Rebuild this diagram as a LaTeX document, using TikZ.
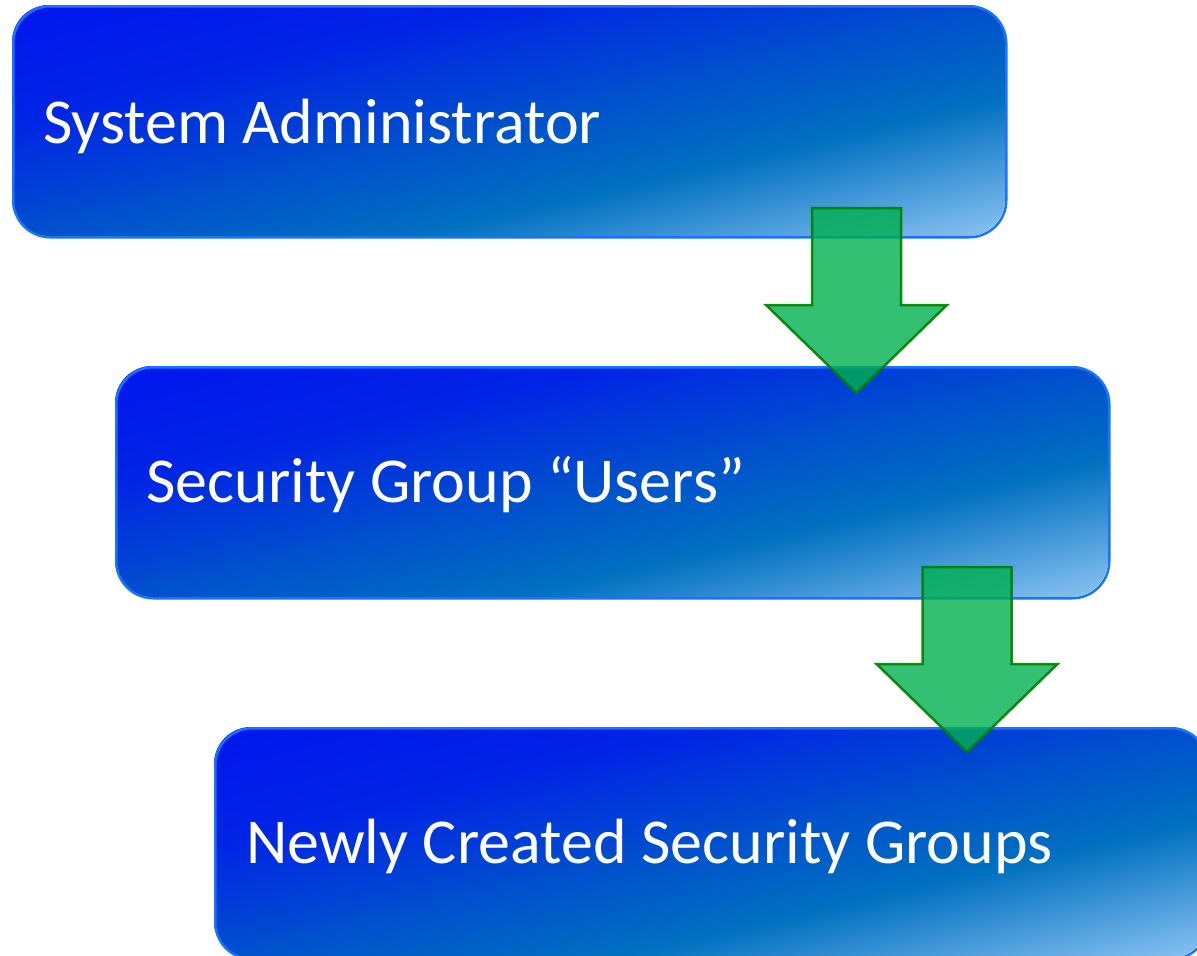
\documentclass[tikz,border=0pt]{standalone}
\usepackage{fontspec}
\setmainfont{Carlito}
\usetikzlibrary{calc}
\definecolor{gA}{RGB}{0,16,240}
\definecolor{gB}{RGB}{0,36,230}
\definecolor{gC}{RGB}{0,80,205}
\definecolor{gD}{RGB}{0,112,192}
\definecolor{gE}{RGB}{160,208,250}
\definecolor{boxline}{RGB}{25,115,255}
\definecolor{arrfill}{RGB}{0,176,80}
\definecolor{arrline}{RGB}{0,128,0}
\tikzset{
  boxframe/.style={draw=boxline, line width=2.5bp, rounded corners=37bp,
    minimum width=993bp, minimum height=231bp, inner sep=0pt, anchor=north west},
  boxtext/.style={anchor=base west, text=white, inner sep=0pt,
    font=\fontsize{64bp}{76bp}\selectfont},
  blockarrow/.style={draw=arrline, draw opacity=0.9, fill=arrfill, fill opacity=0.8,
    line width=2.5bp, line join=miter}
}
\newcommand{\gradfill}[2]{%
  \begin{scope}
    \clip[rounded corners=37bp] (#1,#2) rectangle ++(993,231);
    \begin{scope}[transform canvas={rotate around={13.1:(#1,#2)}}]
      \shade[top color=gA,bottom color=gB] (#1-150,#2-40) rectangle (#1+1100,#2+113);
      \shade[top color=gB,bottom color=gC] (#1-150,#2+112) rectangle (#1+1100,#2+226);
      \shade[top color=gC,bottom color=gD] (#1-150,#2+225) rectangle (#1+1100,#2+316);
      \shade[top color=gD,bottom color=gE] (#1-150,#2+315) rectangle (#1+1100,#2+470);
    \end{scope}
  \end{scope}}
\newcommand{\blockarr}[3]{%
  \coordinate (#1) at (#2,#3);
  \draw[blockarrow] ($(#1)+(-44.5,0)$) -- ($(#1)+(44.5,0)$) -- ($(#1)+(44.5,97)$)
    -- ($(#1)+(90.5,97)$) -- ($(#1)+(0,185)$) -- ($(#1)+(-90.5,97)$)
    -- ($(#1)+(-44.5,97)$) -- cycle;}
\begin{document}
\begin{tikzpicture}[x=1bp,y=-1bp]
  \useasboundingbox (0,0) rectangle (1197,956);
  \gradfill{12}{5}
  \node[boxframe] (b1) at (12,5) {};
  \node[boxtext] (t1) at (43,143) {System Administrator};
  \gradfill{115}{366}
  \node[boxframe] (b2) at (115,366) {};
  \node[boxtext] (t2) at (146,502) {Security Group “Users”};
  \gradfill{214}{727}
  \node[boxframe] (b3) at (214,727) {};
  \node[boxtext] (t3) at (246,863) {Newly Created Security Groups};
  \blockarr{a1}{856.5}{208}
  \blockarr{a2}{967}{567}
\end{tikzpicture}
\end{document}
